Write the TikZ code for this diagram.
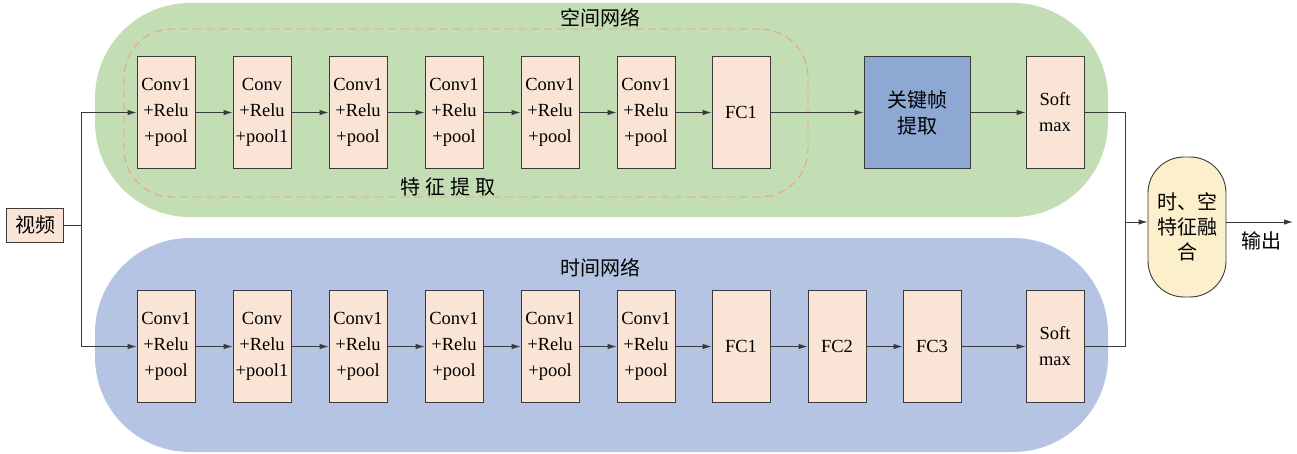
\documentclass[tikz,border=0pt]{standalone}
\usepackage{fontspec}
\setmainfont{Liberation Serif}
\newfontfamily\cjk{Noto Sans CJK SC}
\usetikzlibrary{arrows.meta}
\definecolor{spgreen}{HTML}{C3DDB4}
\definecolor{tmblue}{HTML}{B4C4E2}
\definecolor{boxfill}{HTML}{F9E4D6}
\definecolor{keyblue}{HTML}{8DA8D3}
\definecolor{fusfill}{HTML}{FBF0CB}
\definecolor{dashor}{HTML}{F0A070}
\definecolor{linec}{HTML}{3A3A3A}
\tikzset{
  region/.style={draw=none, inner sep=0pt, rounded corners=95pt, minimum width=1013pt, minimum height=214pt},
  blk/.style={draw=linec, line width=0.9pt, fill=boxfill, inner sep=0pt, minimum width=58pt, minimum height=112pt, align=center, font=\fontsize{18.5}{26}\selectfont},
  keyblk/.style={blk, fill=keyblue, minimum width=106pt, font=\cjk\fontsize{20}{26}\selectfont},
  fus/.style={draw=linec, line width=0.9pt, fill=fusfill, inner sep=0pt, minimum width=78pt, minimum height=140pt, rounded corners=36pt, align=center, font=\cjk\fontsize{20}{25}\selectfont},
  title/.style={font=\cjk\fontsize{20}{24}\selectfont, inner sep=0pt},
  conn/.style={draw=linec, line width=0.9pt},
  arr/.style={conn, -{Latex[length=9pt,width=5.5pt]}},
}
\begin{document}
\begin{tikzpicture}[x=1pt,y=-1pt]
\useasboundingbox (0,0) rectangle (1297,454);
% regions
\node[region, fill=spgreen] (sp) at (601.5,110) {};
\node[region, fill=tmblue] (tm) at (601.5,345) {};
\node[title] (spt) at (600,18) {空间网络};
\node[title] (tmt) at (600,268) {时间网络};
\node[draw=dashor, dash pattern=on 8pt off 5pt, line width=0.9pt, rounded corners=48pt, inner sep=0pt, minimum width=684pt, minimum height=168pt] (fe) at (466,113) {};
\node[title] (fet) at (448,187) {特\hspace{5pt}征\hspace{5pt}提\hspace{5pt}取};
% video
\node[draw=linec, line width=0.9pt, fill=boxfill, minimum width=57pt, minimum height=34pt, inner sep=0pt, font=\cjk\fontsize{20}{24}\selectfont] (vid) at (35,225) {视频};
% top row
\node[blk] (t1) at (166,112.5) {Conv1\\+Relu\\+pool};
\node[blk] (t2) at (262,112.5) {Conv\\+Relu\\+pool1};
\node[blk] (t3) at (358,112.5) {Conv1\\+Relu\\+pool};
\node[blk] (t4) at (454,112.5) {Conv1\\+Relu\\+pool};
\node[blk] (t5) at (550,112.5) {Conv1\\+Relu\\+pool};
\node[blk] (t6) at (646,112.5) {Conv1\\+Relu\\+pool};
\node[blk] (t7) at (741,112.5) {FC1};
\node[keyblk] (tk) at (917,112.5) {关键帧\\提取};
\node[blk] (ts) at (1055,112.5) {Soft\\max};
% bottom row
\node[blk] (b1) at (166,346.5) {Conv1\\+Relu\\+pool};
\node[blk] (b2) at (262,346.5) {Conv\\+Relu\\+pool1};
\node[blk] (b3) at (358,346.5) {Conv1\\+Relu\\+pool};
\node[blk] (b4) at (454,346.5) {Conv1\\+Relu\\+pool};
\node[blk] (b5) at (550,346.5) {Conv1\\+Relu\\+pool};
\node[blk] (b6) at (646,346.5) {Conv1\\+Relu\\+pool};
\node[blk] (b7) at (741,346.5) {FC1};
\node[blk] (b8) at (837,346.5) {FC2};
\node[blk] (b9) at (932,346.5) {FC3};
\node[blk] (bs) at (1055,346.5) {Soft\\max};
% fusion
\node[fus] (fu) at (1187,227) {时、空\\特征融\\合};
\node[title] (outt) at (1261,241) {输出};
\coordinate (j1) at (81,225);
\coordinate (j2) at (1125,222);
\coordinate (out) at (1293,222);
% connectors
\draw[conn] (vid.east) -- (j1);
\draw[arr] (j1) |- (t1.west);
\draw[arr] (j1) |- (b1.west);
\foreach \a/\b in {t1/t2,t2/t3,t3/t4,t4/t5,t5/t6,t6/t7,t7/tk,tk/ts,b1/b2,b2/b3,b3/b4,b4/b5,b5/b6,b6/b7,b7/b8,b8/b9,b9/bs}
  \draw[arr] (\a.east) -- (\b.west);
\draw[conn] (ts.east) -| (j2);
\draw[conn] (bs.east) -| (j2);
\draw[arr] (j2) -- (fu.west |- j2);
\draw[arr] (fu.east |- out) -- (out);
\end{tikzpicture}
\end{document}
